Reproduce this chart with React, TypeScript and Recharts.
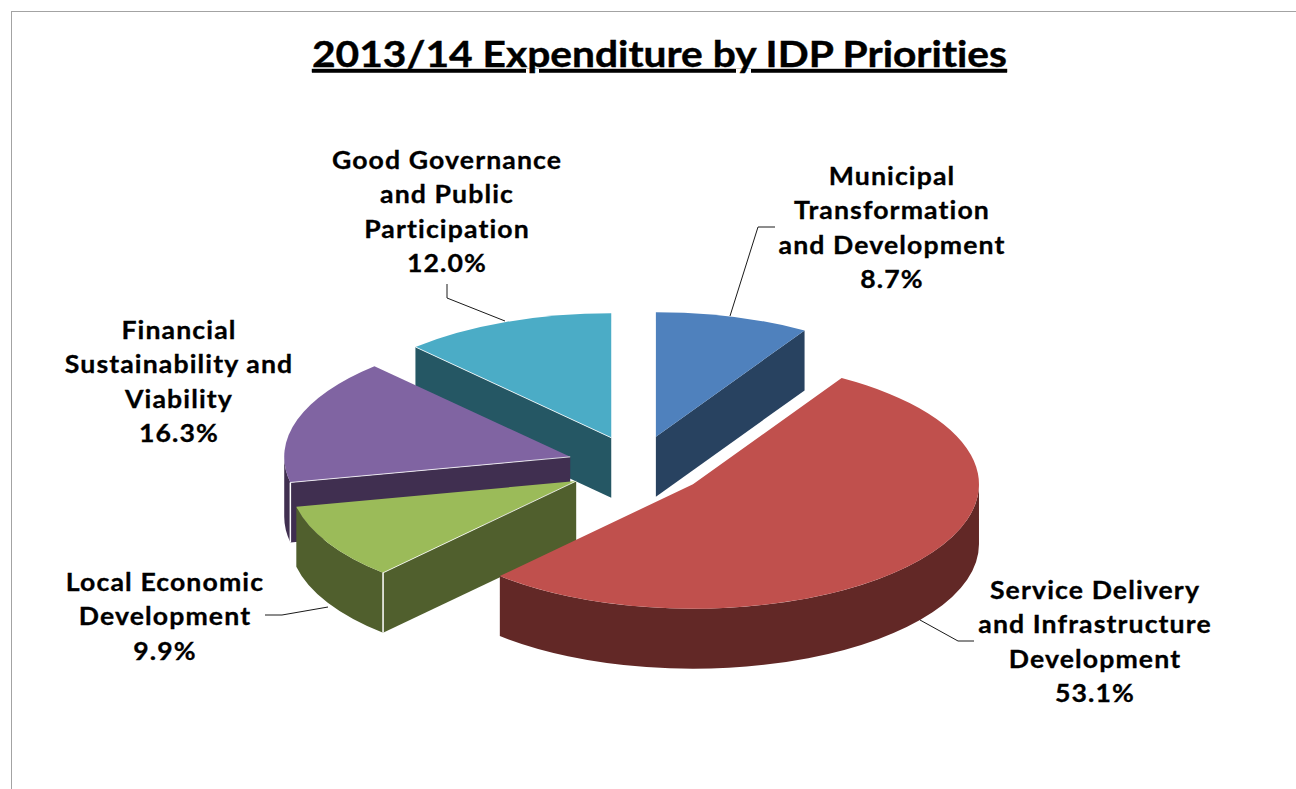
import React from 'react';
import { PieChart, Pie } from 'recharts';

// clockwise from 12 o'clock
const CATEGORIES = [
  'Municipal Transformation and Development',
  'Service Delivery and Infrastructure Development',
  'Local Economic Development',
  'Financial Sustainability and Viability',
  'Good Governance and Public Participation',
];
const SHARES = [8.7, 53.1, 9.9, 16.3, 12.0];
const TOP_COLORS = ['#4F81BD', '#C0504D', '#9BBB59', '#8064A2', '#4BACC6'];
const WALL_COLORS = ['#284260', '#622826', '#505F2D', '#402F50', '#255764'];
const LABEL_LINES = [
  ['Municipal', 'Transformation', 'and Development', '8.7%'],
  ['Service Delivery', 'and Infrastructure', 'Development', '53.1%'],
  ['Local Economic', 'Development', '9.9%'],
  ['Financial', 'Sustainability and', 'Viability', '16.3%'],
  ['Good Governance', 'and Public', 'Participation', '12.0%'],
];
// label centre x, first baseline y, leader line
const LABEL_X = [892, 1095, 165, 179, 447];
const LABEL_Y = [185, 599, 591, 339, 169];
const LEADERS = [
  '730,316 758,227 775,227',
  '920,620 958,641 974,641',
  '328,607 282,615 265,615',
  '',
  '505,321 447,298 447,284',
];

const CX = 637;
const CY = 466;
const RADIUS = 286;
const SQUASH = 0.435; // tilt of the 3d pie
const EXPLODE = 70;
const DEPTH = 60;
const FONT = 'Lato, sans-serif';
const TEXT_STRETCH = 1.11; // the source labels are wider than Lato

// Pie runs counter-clockwise here so later slices paint over earlier ones
const pieData = CATEGORIES.map((name, i) => ({
  name,
  value: SHARES[i],
  idx: i,
})).reverse();

const rad = (d: number) => (d * Math.PI) / 180;

function Slice3D(props: any) {
  const { cx, cy, outerRadius: r, startAngle, endAngle, payload } = props;
  const idx = payload?.idx ?? props.idx;
  const span = endAngle - startAngle;
  const t0 = (((90 - endAngle) % 360) + 360) % 360;
  const t1 = t0 + span;
  const mid = (t0 + t1) / 2;
  const ax = cx + EXPLODE * Math.sin(rad(mid));
  const ay = cy - EXPLODE * SQUASH * Math.cos(rad(mid));
  const b = r * SQUASH;
  const px = (t: number) => ax + r * Math.sin(rad(t));
  const py = (t: number) => ay - b * Math.cos(rad(t));
  const face = (t: number) =>
    `M${ax},${ay} L${px(t)},${py(t)} L${px(t)},${py(t) + DEPTH} L${ax},${ay + DEPTH} Z`;

  const wallFrom = Math.max(t0, 90);
  const wallTo = Math.min(t1, 270);
  const hasWall = wallTo > wallFrom;
  const startVisible = Math.sin(rad(t0)) < -0.01;
  const endVisible = Math.sin(rad(t1)) > 0.01;
  const large = span > 180 ? 1 : 0;

  return (
    <g>
      {startVisible && <path d={face(t0)} fill={WALL_COLORS[idx]} />}
      {endVisible && <path d={face(t1)} fill={WALL_COLORS[idx]} />}
      {hasWall && (
        <path
          d={`M${px(wallFrom)},${py(wallFrom)} A${r},${b} 0 0 1 ${px(wallTo)},${py(wallTo)} L${px(wallTo)},${py(wallTo) + DEPTH} A${r},${b} 0 0 0 ${px(wallFrom)},${py(wallFrom) + DEPTH} Z`}
          fill={WALL_COLORS[idx]}
        />
      )}
      <path
        d={`M${ax},${ay} L${px(t0)},${py(t0)} A${r},${b} 0 ${large} 1 ${px(t1)},${py(t1)} Z`}
        fill={TOP_COLORS[idx]}
      />
      {startVisible && (
        <line x1={ax} y1={ay} x2={px(t0)} y2={py(t0)} stroke="#fff" strokeOpacity={0.8} strokeWidth={1} />
      )}
      {startVisible && hasWall && (
        <line x1={px(t0)} y1={py(t0)} x2={px(t0)} y2={py(t0) + DEPTH} stroke="#fff" strokeWidth={1.5} />
      )}
    </g>
  );
}

function SliceLabel(props: any) {
  const idx = props.payload?.idx ?? props.idx;
  const lines = LABEL_LINES[idx];
  const x = LABEL_X[idx];
  return (
    <g>
      {LEADERS[idx] && <polyline points={LEADERS[idx]} fill="none" stroke="#1a1a1a" strokeWidth={1} />}
      <text
        transform={`translate(${x} 0) scale(${TEXT_STRETCH} 1)`}
        textAnchor="middle"
        fontFamily={FONT}
        fontWeight={700}
        fontSize={24}
        letterSpacing={1}
        fill="#000"
        stroke="#000"
        strokeWidth={0.3}
      >
        {lines.map((line, i) => (
          <tspan key={i} x={0} y={LABEL_Y[idx] + i * 34.3}>
            {line}
          </tspan>
        ))}
      </text>
    </g>
  );
}

export default function App() {
  return (
    <div style={{ position: 'absolute', left: 0, top: 0, width: 1296, height: 789, overflow: 'hidden', background: '#fff' }}>
      <div
        style={{
          position: 'absolute',
          left: 10.5,
          top: 11,
          width: 1400,
          height: 900,
          border: '1.5px solid #A3A3A3',
        }}
      />
      <div style={{ position: 'absolute', left: 0, top: 0 }}>
        <PieChart width={1296} height={789} margin={{ top: 0, right: 0, bottom: 0, left: 0 }}>
          <text
            x={659.5}
            y={67}
            textAnchor="middle"
            fontFamily={FONT}
            fontWeight={700}
            fontSize={36}
            textLength={695}
            lengthAdjust="spacingAndGlyphs"
            textDecoration="underline"
            fill="#000"
            stroke="#000"
            strokeWidth={0.4}
            style={{ fontVariantLigatures: 'none' }}
          >
            2013/14 Expenditure by IDP Priorities
          </text>
          <Pie
            data={pieData}
            dataKey="value"
            nameKey="name"
            cx={CX}
            cy={CY}
            outerRadius={RADIUS}
            innerRadius={0}
            startAngle={90}
            endAngle={450}
            stroke="none"
            isAnimationActive={false}
            shape={Slice3D}
            label={SliceLabel}
            labelLine={false}
          />
        </PieChart>
      </div>
    </div>
  );
}
